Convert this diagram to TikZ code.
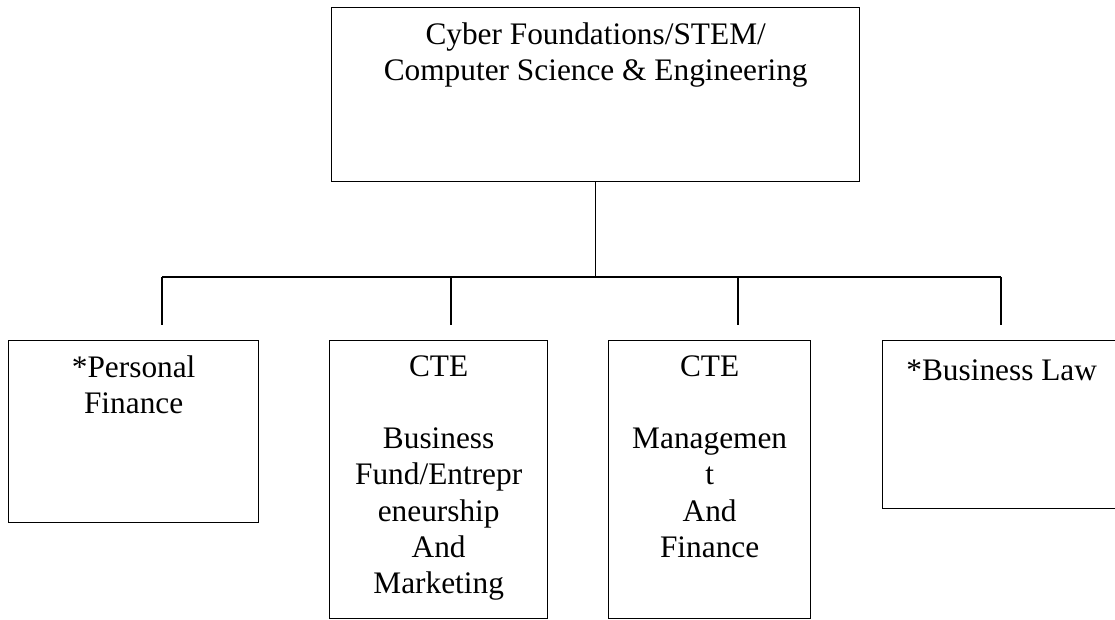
\documentclass[tikz,border=0pt]{standalone}
\usepackage{fontspec}
\setmainfont{Liberation Serif}
\usetikzlibrary{calc}

\begin{document}
\begin{tikzpicture}[x=0.75pt,y=-0.75pt,line width=1pt,
	box/.style={draw,rectangle,anchor=north west,inner sep=0pt},
	txt/.style={anchor=north,align=center,inner sep=0pt,font=\fontsize{23.5}{27.2}\selectfont,execute at begin node=\strut}]
\useasboundingbox (0,0) rectangle (1115,620);

%top
\node[box,minimum width=396pt,minimum height=130.5pt] (cyber) at (331,7) {};
\node[txt] (cybertxt) at ($(cyber.north)+(0,14.6)$) {Cyber Foundations/STEM/\\Computer Science \& Engineering};

%bottom row
\node[box,minimum width=187.5pt,minimum height=136.5pt] (pf) at (8,340) {};
\node[box,minimum width=163.5pt,minimum height=208.5pt] (bfe) at (329,340) {};
\node[box,minimum width=151.5pt,minimum height=208.5pt] (mf) at (608,340) {};
\node[box,minimum width=178.5pt,minimum height=126pt] (law) at (882,340) {};

\node[txt] (pftxt) at ($(pf.north)+(0,14.6)$) {*Personal\\Finance};
\node[txt] (bfetxt) at ($(bfe.north)+(0,14.6)$) {CTE\\[27.2pt]Business\\Fund/Entrepr\\eneurship\\And\\Marketing};
\node[txt] (mftxt) at ($(mf.north)+(0,14.6)$) {CTE\\[27.2pt]Managemen\\t\\And\\Finance};
\node[txt] (lawtxt) at ($(law.north)+(0,14.6)$) {*Business Law};

%connectors
\foreach \n/\x in {1/162,2/451,3/738,4/1001}{
	\coordinate (b\n) at (\x,277);
	\coordinate (e\n) at (\x,325);
}
\draw (cyber.south) -- (cyber.south |- b1);
\draw (b1) -- (b4);
\foreach \n in {1,...,4}
	\draw (b\n) -- (e\n);

\end{tikzpicture}
\end{document}
